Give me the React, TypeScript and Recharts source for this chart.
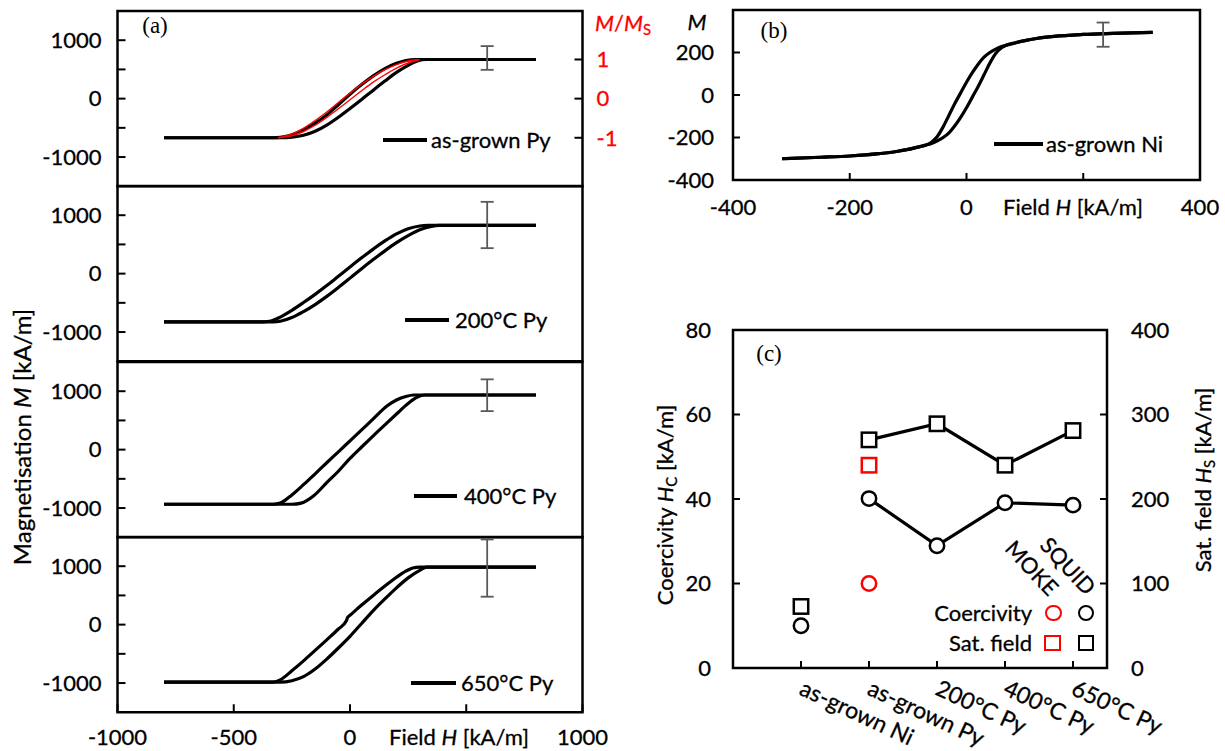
import React from 'react';
import { ComposedChart, Line, Scatter, XAxis, YAxis, ReferenceArea, ErrorBar } from 'recharts';

const FONT = "Lato, 'Noto Sans', sans-serif";
const SERIF = "'Liberation Serif', 'DejaVu Serif', serif";
const RED = '#ff0000';

type P = [number, number];

// ---------- panel (a): M(H) loops, field H [kA/m] vs M [kA/m] ----------
const fieldTicksA = [-1000, -500, 0, 500, 1000];
const magTicksA = [-1000, -500, 0, 500, 1000];
const normTicks = [-1, 0, 1];
const msAsGrownPy = 670;

const asGrownPyDesc: P[] = [[-800, -670], [-330, -670], [-300, -662], [-260, -630], [-220, -570], [-180, -490], [-150, -420], [-100, -280], [-50, -105], [0, 75], [50, 240], [100, 390], [150, 515], [200, 605], [240, 652], [280, 670], [800, 670]];
const asGrownPyAsc: P[] = [[-800, -670], [-290, -670], [-250, -660], [-200, -628], [-150, -560], [-100, -455], [-50, -320], [0, -170], [50, -15], [100, 145], [150, 300], [200, 450], [250, 570], [290, 645], [330, 670], [800, 670]];
// MOKE loop (normalised M/Ms)
const mokePyDesc: P[] = [[-310, -1], [-260, -0.93], [-200, -0.76], [-150, -0.56], [-100, -0.34], [-50, -0.1], [0, 0.14], [50, 0.37], [100, 0.57], [150, 0.74], [200, 0.87], [250, 0.96], [290, 1]];
const mokePyAsc: P[] = [[-310, -1], [-250, -0.95], [-200, -0.84], [-150, -0.68], [-100, -0.48], [-50, -0.26], [0, -0.03], [50, 0.2], [100, 0.42], [150, 0.61], [200, 0.78], [250, 0.91], [300, 1]];

const py200Desc: P[] = [[-800, -825], [-370, -825], [-340, -812], [-300, -745], [-250, -628], [-200, -495], [-150, -355], [-100, -205], [-50, -45], [0, 115], [50, 270], [100, 420], [150, 560], [200, 680], [250, 768], [300, 815], [335, 825], [800, 825]];
const py200Asc: P[] = [[-800, -825], [-330, -825], [-300, -815], [-250, -752], [-200, -650], [-150, -530], [-100, -390], [-50, -237], [0, -77], [50, 85], [100, 240], [150, 390], [200, 530], [250, 650], [300, 750], [350, 810], [385, 825], [800, 825]];

const py400Desc: P[] = [[-800, -935], [-330, -935], [-300, -915], [-250, -775], [-200, -600], [-150, -414], [-100, -225], [-50, -38], [0, 150], [50, 338], [100, 526], [160, 750], [200, 850], [240, 910], [275, 935], [800, 935]];
const py400Asc: P[] = [[-800, -935], [-250, -935], [-210, -915], [-156, -790], [-100, -565], [-50, -370], [0, -150], [50, 45], [100, 235], [150, 425], [200, 610], [250, 790], [290, 900], [320, 935], [800, 935]];

const py650Desc: P[] = [[-800, -985], [-335, -985], [-300, -945], [-250, -790], [-200, -620], [-150, -440], [-100, -260], [-50, -75], [-15, 70], [-10, 125], [0, 160], [50, 335], [100, 500], [150, 660], [200, 810], [240, 915], [270, 970], [300, 985], [800, 985]];
const py650Asc: P[] = [[-800, -985], [-300, -985], [-250, -960], [-200, -890], [-150, -760], [-100, -590], [-50, -400], [0, -200], [50, 20], [100, 240], [150, 440], [200, 630], [250, 800], [300, 930], [330, 985], [800, 985]];

const loopNames = ['as-grown Py', '200°C Py', '400°C Py', '650°C Py'];
const errField = 590;
const errCentre = [670, 822, 935, 985];
const errMinus = [177, 386, 276, 507];
const errPlus = [229, 407, 268, 473];

// ---------- panel (b): as-grown Ni ----------
const fieldTicksB = [-400, -200, 0, 200, 400];
const magTicksB = [-400, -200, 0, 200, 400];
const niDesc: P[] = [[-316, -300], [-250, -293], [-200, -287], [-150, -276], [-120, -266], [-100, -256], [-80, -243], [-70, -236], [-60, -222], [-50, -195], [-40, -150], [-30, -95], [-20, -40], [-10, 10], [0, 60], [10, 105], [20, 145], [30, 178], [40, 200], [50, 216], [60, 228], [70, 236], [80, 243], [100, 256], [120, 266], [150, 276], [200, 285], [250, 290], [319, 295]];
const niAsc: P[] = [[-316, -300], [-250, -293], [-200, -287], [-150, -276], [-120, -266], [-100, -256], [-80, -243], [-70, -236], [-60, -228], [-50, -216], [-40, -200], [-30, -178], [-20, -145], [-10, -105], [0, -60], [10, -10], [20, 40], [30, 95], [40, 150], [50, 195], [60, 222], [70, 236], [80, 243], [100, 256], [120, 266], [150, 276], [200, 285], [250, 290], [319, 295]];
const niErr = { h: 234, m: 288, minus: 61, plus: 53 };

// ---------- panel (c): coercivity and saturation field ----------
const samples = ['as-grown Ni', 'as-grown Py', '200°C Py', '400°C Py', '650°C Py'];
const squidCoercivity = [10.0, 40.1, 28.95, 39.1, 38.55];
const squidSatField = [72.8, 270, 289, 240, 281];
const mokeCoercivity = [null, 20.0, null, null, null];
const mokeSatField = [null, 240, null, null, null];
const hcTicks = [0, 20, 40, 60, 80];
const hsTicks = [0, 100, 200, 300, 400];

const toHM = (arr: P[]) => arr.map(([h, m]) => ({ h, m }));

const tickStyle = { fill: '#000', fontSize: 22, fontFamily: FONT, stroke: '#000', strokeWidth: 0.3 };
const tickLine = { stroke: '#000', strokeWidth: 2 };

function T({ x, y, children, size = 22, color = '#000', anchor = 'start', rotate = 0, family = FONT, bold = true }: any) {
  const tx = anchor === 'middle' ? '-50%' : anchor === 'end' ? '-100%' : '0%';
  return (
    <div
      style={{
        position: 'absolute',
        left: x,
        top: y,
        transform: `translate(${tx}, -50%) rotate(${rotate}deg)`,
        whiteSpace: 'nowrap',
        fontSize: size,
        color,
        fontFamily: family,
        lineHeight: 1,
        WebkitTextStroke: bold ? `0.3px ${color}` : undefined,
      }}
    >
      {children}
    </div>
  );
}

function LegLine({ x1, x2, y }: any) {
  return <div style={{ position: 'absolute', left: x1, top: y - 1.6, width: x2 - x1, height: 3.2, background: '#000' }} />;
}

const Sub = ({ c }: any) => <span style={{ fontSize: '0.68em', position: 'relative', top: '0.25em' }}>{c}</span>;

const PLOT_A_TOP = 11;
const PLOT_A_H = 175.25;

function LoopPanel({ idx, desc, asc }: any) {
  const top = PLOT_A_TOP + PLOT_A_H * idx;
  const showX = idx === 3;
  const red = idx === 0;
  const xH = showX ? 45 : 0;
  return (
    <div style={{ position: 'absolute', left: 0, top: top - 2 }}>
      <ComposedChart width={640} height={PLOT_A_H + 4 + xH} margin={{ top: 2, right: red ? 0 : 57.5, bottom: 2, left: 0 }}>
        <XAxis
          type="number"
          dataKey="h"
          domain={[-1000, 1000]}
          ticks={fieldTicksA}
          hide={!showX}
          height={xH}
          interval={0}
          axisLine={false}
          tickLine={tickLine}
          tickSize={-8}
          tickMargin={25}
          tick={tickStyle}
          tickFormatter={(v: number) => (v === 500 ? '' : String(v))}
        />
        <YAxis
          yAxisId="l"
          type="number"
          domain={[-1500, 1500]}
          ticks={magTicksA}
          width={117.5}
          interval={0}
          axisLine={false}
          tickLine={tickLine}
          tickSize={-8}
          tickMargin={24}
          tick={tickStyle}
          tickFormatter={(v: number) => (Math.abs(v) === 500 ? '' : String(v))}
        />
        {red && (
          <YAxis
            yAxisId="r"
            orientation="right"
            type="number"
            domain={[-1500 / msAsGrownPy, 1500 / msAsGrownPy]}
            ticks={normTicks}
            width={57.5}
            interval={0}
            axisLine={false}
            tickLine={tickLine}
            tickSize={-8}
            tickMargin={22}
            tick={{ ...tickStyle, fill: RED, stroke: RED, textAnchor: 'start' }}
          />
        )}
        <Line yAxisId="l" data={toHM(desc)} dataKey="m" type="monotone" stroke="#000" strokeWidth={3.2} dot={false} isAnimationActive={false} />
        <Line yAxisId="l" data={toHM(asc)} dataKey="m" type="monotone" stroke="#000" strokeWidth={3.2} dot={false} isAnimationActive={false} />
        {red && (
          <Line yAxisId="r" data={toHM(mokePyDesc)} dataKey="m" type="monotone" stroke={RED} strokeWidth={1.4} dot={false} isAnimationActive={false} />
        )}
        {red && (
          <Line yAxisId="r" data={toHM(mokePyAsc)} dataKey="m" type="monotone" stroke={RED} strokeWidth={1.4} dot={false} isAnimationActive={false} />
        )}
        <Scatter
          yAxisId="l"
          data={[{ h: errField, m: errCentre[idx], err: [errMinus[idx], errPlus[idx]] }]}
          dataKey="m"
          shape={() => <g />}
          isAnimationActive={false}
        >
          <ErrorBar dataKey="err" direction="y" width={6.5} stroke="#595959" strokeWidth={1.8} />
        </Scatter>
        <ReferenceArea yAxisId="l" x1={-1000} x2={1000} y1={-1500} y2={1500} fill="none" stroke="#000" strokeWidth={2.5} />
      </ComposedChart>
    </div>
  );
}

function NiPanel() {
  return (
    <div style={{ position: 'absolute', left: 640, top: 8 }}>
      <ComposedChart width={585} height={214} margin={{ top: 2, right: 25, bottom: 2, left: 0 }}>
        <XAxis
          type="number"
          dataKey="h"
          domain={[-400, 400]}
          ticks={fieldTicksB}
          height={40}
          interval={0}
          axisLine={false}
          tickLine={tickLine}
          tickSize={-7}
          tickMargin={26}
          tick={tickStyle}
          tickFormatter={(v: number) => (v === 200 ? '' : String(v))}
        />
        <YAxis
          type="number"
          domain={[-400, 400]}
          ticks={magTicksB}
          width={93}
          interval={0}
          axisLine={false}
          tickLine={tickLine}
          tickSize={-7}
          tickMargin={26}
          tick={tickStyle}
          tickFormatter={(v: number) => (v === 400 ? '' : String(v))}
        />
        <Line data={toHM(niDesc)} dataKey="m" type="monotone" stroke="#000" strokeWidth={3.2} dot={false} isAnimationActive={false} />
        <Line data={toHM(niAsc)} dataKey="m" type="monotone" stroke="#000" strokeWidth={3.2} dot={false} isAnimationActive={false} />
        <Scatter data={[{ h: niErr.h, m: niErr.m, err: [niErr.minus, niErr.plus] }]} dataKey="m" shape={() => <g />} isAnimationActive={false}>
          <ErrorBar dataKey="err" direction="y" width={6.5} stroke="#595959" strokeWidth={1.8} />
        </Scatter>
        <ReferenceArea x1={-400} x2={400} y1={-400} y2={400} fill="none" stroke="#000" strokeWidth={2.5} />
      </ComposedChart>
    </div>
  );
}

const circleShape = (color: string) => (p: any) => (
  <circle cx={p.cx} cy={p.cy} r={7.2} fill="#fff" stroke={color} strokeWidth={2.5} />
);
const squareShape = (color: string) => (p: any) => (
  <rect x={p.cx - 7.2} y={p.cy - 7.2} width={14.4} height={14.4} fill="#fff" stroke={color} strokeWidth={2.5} />
);

function SamplesTick(props: any) {
  const { x, y, payload } = props;
  const label = samples[payload.value - 1];
  return (
    <text
      x={x - 3}
      y={y}
      transform={`rotate(25, ${x - 3}, ${y})`}
      textAnchor="start"
      fontSize={23}
      fontFamily={FONT}
      fill="#000"
      stroke="#000"
      strokeWidth={0.3}
    >
      {label}
    </text>
  );
}

function PropPanel() {
  const pts = samples.map((s, i) => ({ x: i + 1, name: s }));
  const hcNi = [{ x: 1, y: squidCoercivity[0] }];
  const hsNi = [{ x: 1, y: squidSatField[0] }];
  const hcPy = pts.slice(1).map((p, i) => ({ x: p.x, y: squidCoercivity[i + 1] }));
  const hsPy = pts.slice(1).map((p, i) => ({ x: p.x, y: squidSatField[i + 1] }));
  const hcMoke = pts.filter((p, i) => mokeCoercivity[i] != null).map((p) => ({ x: p.x, y: mokeCoercivity[p.x - 1] }));
  const hsMoke = pts.filter((p, i) => mokeSatField[i] != null).map((p) => ({ x: p.x, y: mokeSatField[p.x - 1] }));
  return (
    <div style={{ position: 'absolute', left: 620, top: 300 }}>
      <ComposedChart width={605} height={451} margin={{ top: 30, right: 0, bottom: 0, left: 0 }}>
        <XAxis
          type="number"
          dataKey="x"
          domain={[0, 5.5]}
          ticks={[1, 2, 3, 4, 5]}
          height={83}
          interval={0}
          axisLine={false}
          tickLine={tickLine}
          tickSize={-7}
          tickMargin={33}
          tick={<SamplesTick />}
        />
        <YAxis
          yAxisId="l"
          type="number"
          domain={[0, 80]}
          ticks={hcTicks}
          width={113}
          interval={0}
          axisLine={false}
          tickLine={tickLine}
          tickSize={-7}
          tickMargin={29}
          tick={tickStyle}
        />
        <YAxis
          yAxisId="r"
          orientation="right"
          type="number"
          domain={[0, 400]}
          ticks={hsTicks}
          width={118}
          interval={0}
          axisLine={false}
          tickLine={tickLine}
          tickSize={-7}
          tickMargin={31}
          tick={{ ...tickStyle, textAnchor: 'start' }}
        />
        <Line yAxisId="l" data={hcPy} dataKey="y" stroke="#000" strokeWidth={3.2} dot={false} isAnimationActive={false} />
        <Line yAxisId="r" data={hsPy} dataKey="y" stroke="#000" strokeWidth={3.2} dot={false} isAnimationActive={false} />
        <Scatter yAxisId="l" data={[...hcNi, ...hcPy]} dataKey="y" shape={circleShape('#000')} isAnimationActive={false} />
        <Scatter yAxisId="r" data={[...hsNi, ...hsPy]} dataKey="y" shape={squareShape('#000')} isAnimationActive={false} />
        <Scatter yAxisId="l" data={hcMoke} dataKey="y" shape={circleShape(RED)} isAnimationActive={false} />
        <Scatter yAxisId="r" data={hsMoke} dataKey="y" shape={squareShape(RED)} isAnimationActive={false} />
        <ReferenceArea yAxisId="l" x1={0} x2={5.5} y1={0} y2={80} fill="none" stroke="#000" strokeWidth={2.5} />
      </ComposedChart>
    </div>
  );
}

const loopDesc = [asGrownPyDesc, py200Desc, py400Desc, py650Desc];
const loopAsc = [asGrownPyAsc, py200Asc, py400Asc, py650Asc];
const legendLines = [
  { x1: 383, x2: 427, y: 140, tx: 431 },
  { x1: 405, x2: 449, y: 320, tx: 455 },
  { x1: 414, x2: 457, y: 496, tx: 464 },
  { x1: 411, x2: 456, y: 683, tx: 461 },
];

function Marker({ x, y, color, kind }: any) {
  return (
    <div
      style={{
        position: 'absolute',
        left: x - 8.4,
        top: y - 8.4,
        width: 16.8,
        height: 16.8,
        boxSizing: 'border-box',
        border: `2.5px solid ${color}`,
        borderRadius: kind === 'circle' ? '50%' : 0,
        background: '#fff',
      }}
    />
  );
}

export default function App() {
  return (
    <div style={{ position: 'absolute', left: 0, top: 0, width: 1225, height: 751, background: '#fff', overflow: 'hidden', fontFamily: FONT }}>
      {loopDesc.map((d, i) => (
        <LoopPanel key={i} idx={i} desc={d} asc={loopAsc[i]} />
      ))}
      <NiPanel />
      <PropPanel />

      {/* panel (a) annotations */}
      <T x={155} y={25} anchor="middle" family={SERIF} size={23} bold={false}>(a)</T>
      {legendLines.map((l, i) => (
        <React.Fragment key={i}>
          <LegLine x1={l.x1} x2={l.x2} y={l.y} />
          <T x={l.tx} y={l.y}>{loopNames[i]}</T>
        </React.Fragment>
      ))}
      <T x={459} y={737} anchor="middle">Field <i>H</i> [kA/m]</T>
      <T x={595} y={23} color={RED}>
        <i>M</i>/<i>M</i>
        <Sub c="S" />
      </T>
      <T x={22} y={437} anchor="middle" rotate={-90} size={24}>
        Magnetisation <i>M</i> [kA/m]
      </T>

      {/* panel (b) annotations */}
      <T x={774} y={30} anchor="middle" family={SERIF} size={23} bold={false}>(b)</T>
      <LegLine x1={994} x2={1043} y={144} />
      <T x={1046} y={144}>as-grown Ni</T>
      <T x={1073} y={207} anchor="middle">Field <i>H</i> [kA/m]</T>
      <T x={697} y={22} anchor="middle"><i>M</i></T>

      {/* panel (c) annotations */}
      <T x={769} y={353} anchor="middle" family={SERIF} size={23} bold={false}>(c)</T>
      <T x={665} y={505} anchor="middle" rotate={-90}>
        Coercivity <i>H</i>
        <Sub c="C" /> [kA/m]
      </T>
      <T x={1203} y={480} anchor="middle" rotate={-90}>
        Sat. field <i>H</i>
        <Sub c="S" /> [kA/m]
      </T>
      <T x={1032} y={568} anchor="middle" rotate={47}>MOKE</T>
      <T x={1068} y={566} anchor="middle" rotate={47}>SQUID</T>
      <T x={1032} y={613} anchor="end">Coercivity</T>
      <T x={1032} y={643} anchor="end">Sat. field</T>
      <Marker x={1053.5} y={613} color={RED} kind="circle" />
      <Marker x={1086} y={613} color="#000" kind="circle" />
      <Marker x={1052.5} y={643} color={RED} kind="square" />
      <Marker x={1086} y={643} color="#000" kind="square" />
    </div>
  );
}
